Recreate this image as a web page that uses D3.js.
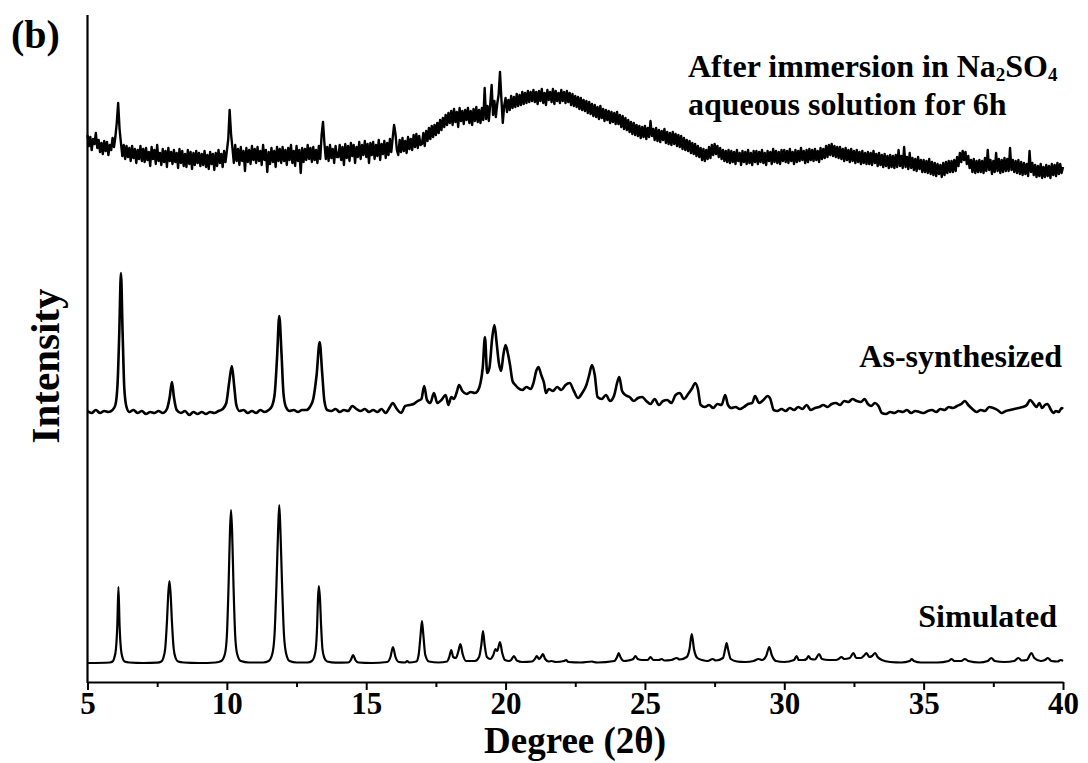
<!DOCTYPE html>
<html>
<head>
<meta charset="utf-8">
<script src="https://cdn.jsdelivr.net/npm/d3@7"></script>
<style>
  body { margin: 0; background: #fff; }
  svg { display: block; }
  text { font-family: "Liberation Serif", "Times New Roman", serif; font-weight: bold; fill: #000; }
</style>
</head>
<body>
<div id="chart"></div>
<script>
// Canvas size
var width = 1088;
var height = 763;

// x ticks (2 theta, degrees)
var majorTicks = [5, 10, 15, 20, 25, 30, 35, 40];
var minorTicks = [7.5, 12.5, 17.5, 22.5, 27.5, 32.5, 37.5];

// vertical offsets of each pattern (a.u.)
var offsetSim = 19;
var offsetAs = 269;
var offsetAfter = 501;

// Simulated pattern: [2theta, intensity]
var simulated = [
  [5.0,0],[5.8,0.5],[5.9,1.5],[5.96,5],[6.02,14],[6.07,38],[6.11,76],[6.15,38],[6.2,14],[6.26,5],[6.33,1.5],[6.5,0.5],
  [7.0,0],[7.5,0.3],[7.65,1.5],[7.72,5],[7.79,15],[7.85,41],[7.9,70],[7.94,82],[7.98,70],[8.03,41],[8.09,15],[8.16,5],[8.25,1.5],[8.45,0.5],
  [9.0,0],[9.6,0.5],[9.8,2],[9.93,9],[10.0,27],[10.06,76],[10.11,130],[10.15,153],[10.19,130],[10.24,76],[10.3,27],[10.37,9],[10.5,2],[10.8,0.5],
  [11.3,0.5],[11.5,2],[11.63,9],[11.71,28],[11.78,79],[11.84,134],[11.88,158],[11.92,134],[11.98,79],[12.05,28],[12.13,9],[12.25,2],[12.5,0.5],
  [12.9,0.5],[13.05,2],[13.12,5],[13.19,14],[13.24,38],[13.27,65],[13.3,77],[13.34,65],[13.38,38],[13.43,14],[13.5,5],[13.6,1.5],[13.9,0.3],
  [14.35,0.5],[14.45,3],[14.53,8],[14.61,3],[14.72,0.5],[15.2,0],[15.75,1],[15.87,6],[15.96,16],[16.05,6],[16.17,1],[16.4,0.5],[16.47,2],[16.54,0.5],
  [16.8,1.5],[16.88,8],[16.95,28],[17.0,42],[17.05,28],[17.12,8],[17.25,1.5],[17.6,0.5],[17.9,1.5],[17.98,6],[18.05,13],[18.12,6],[18.22,5],
  [18.3,11],[18.38,19],[18.46,9],[18.58,2],[18.9,2],[19.05,6],[19.13,18],[19.19,32],[19.25,18],[19.33,6],[19.45,4],[19.56,8],[19.64,14],
  [19.7,12],[19.8,21],[19.88,10],[19.98,3],[20.12,2],[20.2,3],[20.3,7],[20.4,2.5],[20.6,1],[20.95,1.5],[21.05,4],[21.12,7],[21.2,4],[21.27,6],
  [21.34,9],[21.42,4],[21.55,1.5],[21.65,2],[21.8,1],[22.1,2],[22.17,3],[22.25,1],[22.7,0.5],[23.1,1.5],[23.16,1],[23.3,0.5],[23.9,2],[24.0,6],
  [24.06,10],[24.12,6],[24.25,2],[24.4,2.5],[24.58,4],[24.66,7],[24.74,4],[24.9,3],[25.1,3],[25.2,6],[25.3,3],[25.5,3],[25.6,4],[25.7,2.5],
  [25.95,3],[26.14,5],[26.25,3.5],[26.5,6],[26.6,14],[26.68,29],[26.76,14],[26.88,5],[27.05,3],[27.25,2],[27.43,4],[27.55,2.5],[27.8,5],
  [27.88,14],[27.93,20],[27.98,14],[28.08,4],[28.3,1.5],[28.6,1],[28.9,2],[29.08,4],[29.2,3],[29.35,7],[29.46,16],[29.55,8],[29.7,2],[30.0,1],
  [30.35,3],[30.44,7],[30.52,3],[30.7,3],[30.8,4],[30.87,7],[30.95,4],[31.1,3.5],[31.25,9],[31.35,4],[31.6,3],[31.85,3],[31.95,4],[32.05,6],
  [32.15,4],[32.35,5],[32.48,10],[32.58,5],[32.75,5],[32.88,8],[32.95,10],[33.05,6],[33.15,7],[33.26,10],[33.35,6],[33.5,3],[33.8,1],[34.2,0.5],
  [34.5,2],[34.57,4],[34.65,2],[34.9,0.5],[35.5,0.5],[35.9,2],[36.0,4],[36.1,2],[36.35,2],[36.48,4],[36.6,2],[37.0,0.5],[37.3,2],[37.43,5],
  [37.55,2],[37.9,1],[38.25,2],[38.4,5],[38.52,2.5],[38.7,3],[38.87,10],[38.97,5],[39.2,2],[39.35,3],[39.46,5],[39.58,2],[39.8,1.5],[39.92,3],[40.0,2]
];

// As-synthesized pattern: [2theta, intensity]
var asSynthesized = [
  [5.0,2],[5.15,0],[5.3,3],[5.45,0],[5.6,2],[5.75,1],[5.9,3],[6.0,8],[6.08,30],[6.14,80],[6.2,140],[6.26,80],[6.32,25],[6.4,6],[6.5,1],
  [6.65,3],[6.8,0],[6.95,2],[7.1,-1],[7.25,1],[7.4,0],[7.55,2],[7.7,0],[7.85,4],[7.95,16],[8.03,31],[8.1,16],[8.2,3],[8.35,0],[8.5,2],
  [8.65,-2],[8.8,1],[8.95,-1],[9.1,1],[9.25,-1],[9.4,1],[9.55,0],[9.7,2],[9.85,4],[9.98,10],[10.08,30],[10.18,47],[10.26,28],[10.34,8],
  [10.45,2],[10.6,3],[10.75,0],[10.9,2],[11.05,0],[11.2,3],[11.35,1],[11.5,3],[11.62,7],[11.72,20],[11.8,55],[11.88,97],[11.96,60],[12.03,20],
  [12.12,6],[12.25,2],[12.4,3],[12.55,1],[12.7,3],[12.85,3],[12.98,6],[13.1,14],[13.22,38],[13.33,71],[13.42,40],[13.5,12],[13.6,3],[13.75,2],
  [13.9,4],[14.05,1],[14.2,3],[14.35,2],[14.5,7],[14.65,4],[14.8,2],[14.95,4],[15.1,1],[15.25,3],[15.4,1],[15.55,4],[15.7,0],[15.85,6],
  [15.95,10],[16.1,4],[16.25,0],[16.4,7],[16.55,8],[16.7,9],[16.85,12],[16.98,14],[17.08,27],[17.18,13],[17.3,10],[17.43,20],[17.55,10],
  [17.7,13],[17.85,18],[17.95,8],[18.05,16],[18.15,14],[18.25,21],[18.33,28],[18.45,22],[18.6,19],[18.75,21],[18.9,20],[19.0,22],[19.1,30],
  [19.18,45],[19.26,76],[19.34,40],[19.42,45],[19.52,75],[19.6,88],[19.68,70],[19.76,50],[19.84,42],[19.92,58],[20.0,68],[20.08,60],[20.16,48],
  [20.25,32],[20.35,28],[20.45,25],[20.6,23],[20.75,26],[20.9,24],[21.0,30],[21.1,42],[21.18,46],[21.28,38],[21.38,30],[21.45,20],[21.55,24],
  [21.7,22],[21.85,26],[22.0,23],[22.15,28],[22.3,30],[22.45,22],[22.6,15],[22.75,20],[22.9,28],[23.0,38],[23.1,48],[23.2,38],[23.3,16],
  [23.45,14],[23.6,18],[23.75,12],[23.9,18],[24.0,30],[24.08,36],[24.18,22],[24.3,18],[24.45,16],[24.6,12],[24.75,15],[24.9,16],[25.05,12],
  [25.2,9],[25.35,14],[25.5,8],[25.65,12],[25.8,13],[25.95,10],[26.1,18],[26.25,20],[26.4,14],[26.55,19],[26.7,25],[26.8,30],[26.9,24],
  [27.0,8],[27.15,6],[27.3,8],[27.45,5],[27.6,9],[27.75,8],[27.88,18],[27.98,8],[28.1,5],[28.25,6],[28.4,4],[28.55,6],[28.7,9],[28.85,10],
  [28.95,17],[29.1,10],[29.25,13],[29.4,17],[29.5,14],[29.62,3],[29.75,2],[29.9,4],[30.05,2],[30.2,5],[30.35,3],[30.5,6],[30.65,4],[30.8,8],
  [30.95,3],[31.1,5],[31.25,6],[31.4,8],[31.55,6],[31.7,9],[31.85,10],[32.0,8],[32.15,12],[32.3,11],[32.45,14],[32.6,12],[32.75,11],[32.88,14],
  [33.0,9],[33.12,7],[33.25,10],[33.38,7],[33.5,0],[33.65,-1],[33.8,1],[33.95,0],[34.1,2],[34.25,1],[34.4,3],[34.55,0],[34.7,2],[34.85,1],
  [35.0,0],[35.15,2],[35.3,3],[35.45,1],[35.6,4],[35.75,3],[35.9,6],[36.05,5],[36.2,7],[36.35,9],[36.48,12],[36.6,8],[36.75,4],[36.9,1],
  [37.05,3],[37.2,2],[37.35,6],[37.5,5],[37.65,3],[37.8,0],[37.95,2],[38.1,3],[38.25,4],[38.4,5],[38.55,6],[38.7,8],[38.82,13],[38.95,9],
  [39.05,6],[39.15,10],[39.25,5],[39.35,8],[39.45,9],[39.55,4],[39.65,0],[39.75,2],[39.85,1],[39.95,5],[40.0,4]
];

// After immersion: intensities every 0.05 deg from 5.00 to 40.00 (one row per degree)
var afterStart = 5.0;
var afterStep = 0.05;
var afterImmersion = [
  46,35,44,31,42,37,48,33,41,29,38,27,40,30,39,26,36,31,43,34,   // 5
  44,58,78,52,38,25,36,22,35,24,33,20,35,23,32,18,31,22,35,20,   // 6
  32,19,33,21,29,15,34,22,31,17,36,20,28,16,32,19,30,14,33,20,   // 7
  29,17,31,19,28,13,32,18,30,15,27,14,31,17,29,12,28,16,30,18,   // 8
  28,15,27,16,30,14,26,12,29,17,27,11,28,15,31,18,27,14,30,19,   // 9
  30,42,71,47,33,18,36,20,32,16,34,20,30,10,33,19,31,17,35,21,   // 10
  32,18,34,20,30,16,36,21,31,9,29,17,33,19,30,14,34,20,32,18,    // 11
  34,20,31,16,33,21,36,18,30,15,35,20,31,8,33,19,32,21,36,22,    // 12
  33,19,34,21,31,18,35,22,46,59,38,22,34,20,36,23,32,18,35,24,   // 13
  24,36,21,34,16,37,23,35,20,38,25,36,18,34,24,39,22,36,26,40,   // 14
  24,37,18,38,26,39,22,36,25,41,21,37,27,40,23,38,26,42,29,43,   // 15
  56,47,31,26,41,29,43,30,40,28,44,32,42,31,46,34,47,33,45,36,   // 16
  37,48,35,50,40,53,42,55,44,56,46,58,48,61,51,63,54,66,56,68,   // 17
  58,70,56,72,59,69,54,73,60,70,57,71,61,73,58,70,56,72,60,74,   // 18
  59,71,58,73,61,93,62,75,60,77,96,66,80,64,77,86,109,82,58,75,  // 19
  83,69,81,71,85,73,84,74,87,75,86,76,89,77,88,78,90,79,89,80,   // 20
  91,79,89,77,90,80,92,78,88,76,91,81,89,79,92,77,90,80,88,78,   // 21
  91,80,89,78,90,79,88,76,87,75,85,74,84,72,83,71,81,70,80,68,   // 22
  79,67,77,65,76,64,74,62,75,63,72,60,71,61,70,58,69,59,68,57,   // 23
  69,57,66,54,65,52,63,51,61,49,59,47,58,46,56,45,55,43,54,44,   // 24
  55,42,53,44,60,45,52,41,53,40,51,39,50,41,52,38,49,37,48,36,   // 25
  49,37,47,35,46,34,45,32,43,31,41,30,40,28,38,27,37,25,35,24,   // 26
  33,21,32,20,31,22,34,23,36,26,37,27,35,24,33,22,31,20,30,19,   // 27
  31,18,30,19,29,17,31,20,28,16,30,19,29,17,31,18,28,16,30,19,   // 28
  30,17,29,19,31,18,28,16,30,20,29,17,32,19,30,18,29,17,31,20,   // 29
  31,19,30,18,32,20,29,17,31,19,30,20,33,21,30,18,31,19,32,21,   // 30
  31,20,32,21,30,19,33,22,32,23,35,24,36,26,37,25,35,24,34,23,   // 31
  34,22,32,20,33,21,31,19,32,20,30,18,31,19,29,17,30,18,28,17,   // 32
  29,17,28,16,30,18,27,15,28,16,26,14,27,15,25,13,26,14,25,13,   // 33
  26,14,31,15,25,13,34,14,24,12,28,13,23,11,22,10,24,12,21,9,    // 34
  21,9,20,8,22,7,19,6,18,5,17,7,16,4,18,6,19,8,20,9,             // 35
  20,9,21,10,24,15,28,19,30,21,29,17,25,13,21,9,22,8,20,9,       // 36
  21,9,20,8,23,10,31,11,21,7,20,9,28,10,22,8,21,9,23,10,         // 37
  22,10,33,11,21,9,20,8,21,7,19,6,18,7,17,5,30,9,18,6,           // 38
  16,4,15,5,17,3,14,4,16,5,15,3,17,6,16,5,18,7,17,8,             // 39
  14                                                             // 40
];

var svg = d3.select("#chart")
            .append("svg")
            .attr("width", width)
            .attr("height", height);

// scales
var x = d3.scaleLinear().domain([5, 40]).range([87.5, 1063]);
var y = d3.scaleLinear().domain([0, 667]).range([682, 15]);

// line generators
var lineSmooth = d3.line()
    .x(function(d) { return x(d[0]); })
    .y(function(d) { return y(d[1] + d[2]); })
    .curve(d3.curveMonotoneX);

var lineRaw = d3.line()
    .x(function(d) { return x(d[0]); })
    .y(function(d) { return y(d[1] + d[2]); });

var simData = simulated.map(function(d) { return [d[0], d[1], offsetSim]; });
var asData = asSynthesized.map(function(d) { return [d[0], d[1], offsetAs]; });
var afterData = afterImmersion.map(function(v, i) {
  return [afterStart + i * afterStep, v, offsetAfter];
});

svg.append("path")
   .attr("d", lineSmooth(simData))
   .attr("fill", "none")
   .attr("stroke", "#000")
   .attr("stroke-width", 2.2)
   .attr("stroke-linejoin", "round");

svg.append("path")
   .attr("d", lineSmooth(asData))
   .attr("fill", "none")
   .attr("stroke", "#000")
   .attr("stroke-width", 2.6)
   .attr("stroke-linejoin", "round");

svg.append("path")
   .attr("d", lineRaw(afterData))
   .attr("fill", "none")
   .attr("stroke", "#000")
   .attr("stroke-width", 2.4)
   .attr("stroke-linejoin", "round");

// x axis (major)
var xAxis = svg.append("g")
   .attr("transform", "translate(0,682)")
   .call(d3.axisBottom(x).tickValues(majorTicks).tickSize(8).tickSizeOuter(0).tickPadding(2)
         .tickFormat(d3.format("d")));
xAxis.select(".domain").attr("stroke-width", 2.2);
xAxis.selectAll(".tick line").attr("stroke-width", 2);
xAxis.selectAll(".tick text").style("font-size", "31px").attr("fill", "#000");

// minor ticks
var xMinor = svg.append("g")
   .attr("transform", "translate(0,682)")
   .call(d3.axisBottom(x).tickValues(minorTicks).tickSize(5).tickSizeOuter(0).tickFormat(""));
xMinor.select(".domain").remove();
xMinor.selectAll(".tick line").attr("stroke-width", 2);

// y axis line (no ticks)
svg.append("line")
   .attr("x1", x(5)).attr("x2", x(5))
   .attr("y1", y(667)).attr("y2", y(0) + 1)
   .attr("stroke", "#000")
   .attr("stroke-width", 2.2);

// axis titles
svg.append("text")
   .attr("x", 575)
   .attr("y", 753)
   .attr("text-anchor", "middle")
   .style("font-size", "37px")
   .text("Degree (2θ)");

svg.append("text")
   .attr("transform", "translate(59,366) rotate(-90)")
   .attr("text-anchor", "middle")
   .style("font-size", "41px")
   .text("Intensity");

// panel label
svg.append("text")
   .attr("x", 11)
   .attr("y", 48)
   .style("font-size", "40px")
   .text("(b)");

// series labels
var lab1 = svg.append("text")
   .attr("x", 688)
   .attr("y", 77)
   .style("font-size", "32px");
lab1.append("tspan").text("After immersion in Na");
lab1.append("tspan").attr("dy", 4).style("font-size", "19px").text("2");
lab1.append("tspan").attr("dy", -4).text("SO");
lab1.append("tspan").attr("dy", 4).style("font-size", "19px").text("4");
lab1.append("tspan").attr("x", 688).attr("dy", 34).text("aqueous solution for 6h");

svg.append("text")
   .attr("x", 1062)
   .attr("y", 367)
   .attr("text-anchor", "end")
   .style("font-size", "32px")
   .text("As-synthesized");

svg.append("text")
   .attr("x", 1057)
   .attr("y", 627)
   .attr("text-anchor", "end")
   .style("font-size", "32px")
   .text("Simulated");
</script>
</body>
</html>
